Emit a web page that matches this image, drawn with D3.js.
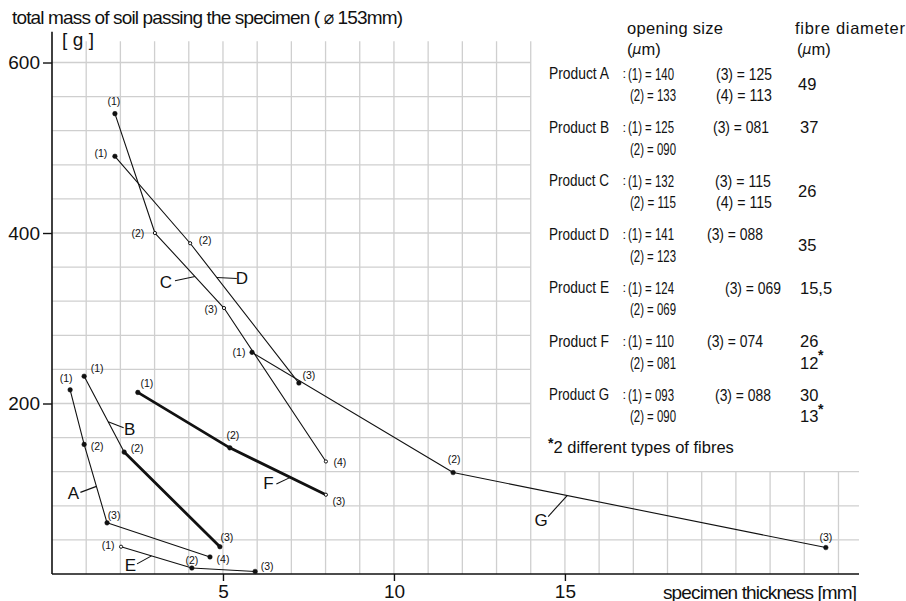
<!DOCTYPE html>
<html>
<head>
<meta charset="utf-8">
<script src="https://cdn.jsdelivr.net/npm/d3@7"></script>
<style>
  html, body { margin: 0; padding: 0; background: #fff; }
  svg text { font-family: "Liberation Sans Narrow", "Liberation Sans", "DejaVu Sans Condensed", sans-serif; fill: #111; }
</style>
</head>
<body>
<svg id="chart" width="906" height="601"></svg>
<script>
// ---------------- DATA ----------------
const products = ["A", "B", "C", "D", "E", "F", "G"];
// specimen thickness [mm]
const thicknessA = [0.53, 0.94, 1.61, 4.62];
const thicknessB = [0.94, 2.11, 4.91];
const thicknessC = [1.84, 3.01, 5.03, 8.01];
const thicknessD = [1.84, 4.04, 7.22];
const thicknessE = [2.02, 4.09, 5.94];
const thicknessF = [2.51, 5.20, 8.01];
const thicknessG = [5.85, 11.73, 22.63];
// total mass of soil passing [g]
const massA = [216, 152, 60, 20];
const massB = [232, 143, 32];
const massC = [540, 400, 312, 132];
const massD = [490, 388, 224];
const massE = [32, 7, 3];
const massF = [213, 148, 93];
const massG = [260, 119, 31];
// opening sizes (µm) for points (1),(2),(3),(4)
const openingA = ["140", "133", "125", "113"];
const openingB = ["125", "090", "081"];
const openingC = ["132", "115", "115", "115"];
const openingD = ["141", "123", "088"];
const openingE = ["124", "069", "069"];
const openingF = ["110", "081", "074"];
const openingG = ["093", "090", "088"];
// fibre diameter (µm)
const fibreA = ["49"];
const fibreB = ["37"];
const fibreC = ["26"];
const fibreD = ["35"];
const fibreE = ["15,5"];
const fibreF = ["26", "12"];
const fibreG = ["30", "13"];

const xTicks = [5, 10, 15];
const yTicks = [200, 400, 600];

const titleText = "total mass of soil passing the specimen ( \u2300 153mm)";
const yUnitText = "[ g ]";
const xTitleText = "specimen thickness [mm]";
const footnoteText = "2 different types of fibres";

// ---------------- LAYOUT / STYLE ----------------
const x = d3.scaleLinear().domain([0, 23.6]).range([52, 859]);
const y = d3.scaleLinear().domain([0, 625]).range([574, 41.2]);
const FONT = '"Liberation Sans Narrow", "Liberation Sans", sans-serif';

// segments drawn heavy: product -> index of first heavy segment
const heavyFrom = { B: 1, F: 0 };
// small open markers
const openMarkers = { C: [1, 2, 3], D: [1], E: [0], F: [2] };
// point-label offsets [dx, dy] in px
const labelOffsets = {
  A: [[-4, -12], [13, 2], [7, -8], [13, 2]],
  B: [[13, -8], [13, -4], [7, -10]],
  C: [[-1, -13], [-17, 0], [-13, 1], [14, 1]],
  D: [[-14, -3], [15, -3], [10, -8]],
  E: [[-13, -2], [0, -8], [12, -5]],
  F: [[9, -9], [3, -13], [13, 6]],
  G: [[-13, 0], [1, -14], [0, -11]]
};
// curve letter call-outs: segment index, fraction along it, leader end offset, letter offset
const callouts = {
  A: { seg: 1, t: 0.535, lead: [-16, 6], letter: [-23, 7.5] },
  B: { seg: 0, t: 0.6, lead: [15.5, 6], letter: [21.5, 7.5] },
  C: { seg: 1, t: 0.58, lead: [-20, 4.3], letter: [-29, 5.5] },
  D: { seg: 1, t: 0.245, lead: [20, 1], letter: [25, 1.5] },
  E: { seg: 0, t: 0.43, lead: [-14.5, 8], letter: [-21, 9.5] },
  F: { seg: 1, t: 0.63, lead: [-14, 6.7], letter: [-22, 6.5] },
  G: { seg: 1, t: 0.306, lead: [-19, 21], letter: [-26, 25] }
};

const table = {
  A: { t: thicknessA, m: massA, open: openingA, fibre: fibreA },
  B: { t: thicknessB, m: massB, open: openingB, fibre: fibreB },
  C: { t: thicknessC, m: massC, open: openingC, fibre: fibreC },
  D: { t: thicknessD, m: massD, open: openingD, fibre: fibreD },
  E: { t: thicknessE, m: massE, open: openingE, fibre: fibreE },
  F: { t: thicknessF, m: massF, open: openingF, fibre: fibreF },
  G: { t: thicknessG, m: massG, open: openingG, fibre: fibreG }
};

const svg = d3.select("#chart");

// ---------------- GRID ----------------
const grid = svg.append("g").attr("stroke", "#cfcfcf").attr("stroke-width", 1.3);
const xGrid = d3.range(1, 24);
grid.selectAll("line.v").data(xGrid).join("line")
  .attr("x1", d => x(d)).attr("x2", d => x(d))
  .attr("y1", y(0)).attr("y2", d => d <= 14 ? y(625) : y(120));
const yGrid = d3.range(40, 601, 40);
grid.selectAll("line.h").data(yGrid).join("line")
  .attr("y1", d => y(d)).attr("y2", d => y(d))
  .attr("x1", x(0)).attr("x2", d => d <= 120 ? x(23.6) : x(14));

// ---------------- AXES ----------------
const axisG = svg.append("g");
axisG.append("line").attr("x1", x(0)).attr("x2", x(0)).attr("y1", y(0)).attr("y2", y(636))
  .attr("stroke", "#111").attr("stroke-width", 1.6);
axisG.append("line").attr("x1", x(0)).attr("x2", x(23.6)).attr("y1", y(0)).attr("y2", y(0))
  .attr("stroke", "#111").attr("stroke-width", 1.6);

const yAxis = svg.append("g").attr("transform", `translate(${x(0)},0)`)
  .call(d3.axisLeft(y).tickValues(yTicks).tickSize(9).tickPadding(3).tickFormat(d3.format("d")));
yAxis.select(".domain").remove();
yAxis.selectAll(".tick line").attr("stroke", "#111").attr("stroke-width", 1.4);
yAxis.selectAll(".tick text").style("font-family", FONT).style("font-size", "19px").attr("fill", "#111");

const xAxis = svg.append("g").attr("transform", `translate(0,${y(0)})`)
  .call(d3.axisBottom(x).tickValues(xTicks).tickSize(7).tickPadding(4).tickFormat(d3.format("d")));
xAxis.select(".domain").remove();
xAxis.selectAll(".tick line").attr("stroke", "#111").attr("stroke-width", 1.4);
xAxis.selectAll(".tick text").style("font-family", FONT).style("font-size", "19px").attr("fill", "#111");

// titles
svg.append("text").attr("x", 12).attr("y", 17).attr("dominant-baseline", "central")
  .attr("textLength", 391).attr("lengthAdjust", "spacing")
  .style("font-size", "19px").text(titleText);
svg.append("text").attr("x", 62).attr("y", 39).attr("dominant-baseline", "central")
  .attr("textLength", 32).attr("lengthAdjust", "spacing")
  .style("font-size", "19px").text(yUnitText);
svg.append("text").attr("x", 663).attr("y", 592).attr("dominant-baseline", "central")
  .attr("textLength", 194).attr("lengthAdjust", "spacing")
  .style("font-size", "19px").text(xTitleText);

// ---------------- CURVES ----------------
const curvesG = svg.append("g");
products.forEach(p => {
  const d = table[p];
  const pts = d.t.map((t, i) => [x(t), y(d.m[i])]);
  for (let i = 0; i < pts.length - 1; i++) {
    const heavy = heavyFrom[p] !== undefined && i >= heavyFrom[p];
    curvesG.append("line")
      .attr("x1", pts[i][0]).attr("y1", pts[i][1])
      .attr("x2", pts[i + 1][0]).attr("y2", pts[i + 1][1])
      .attr("stroke", "#111").attr("stroke-width", heavy ? 2.8 : 1.1)
      .attr("stroke-linecap", "round");
  }
  const opens = openMarkers[p] || [];
  pts.forEach((pt, i) => {
    const isOpen = opens.includes(i);
    curvesG.append("circle").attr("cx", pt[0]).attr("cy", pt[1])
      .attr("r", isOpen ? 1.6 : 2.3)
      .attr("fill", isOpen ? "#fff" : "#111")
      .attr("stroke", "#111").attr("stroke-width", isOpen ? 1 : 0.5);
    const off = labelOffsets[p][i];
    curvesG.append("text").attr("x", pt[0] + off[0]).attr("y", pt[1] + off[1])
      .attr("text-anchor", "middle").attr("dominant-baseline", "central")
      .style("font-size", "10.5px").text(`(${i + 1})`);
  });
  // call-out letter
  const c = callouts[p];
  const a = pts[c.seg], b = pts[c.seg + 1];
  const tx = a[0] + (b[0] - a[0]) * c.t, ty = a[1] + (b[1] - a[1]) * c.t;
  curvesG.append("line").attr("x1", tx).attr("y1", ty)
    .attr("x2", tx + c.lead[0]).attr("y2", ty + c.lead[1])
    .attr("stroke", "#111").attr("stroke-width", 1.1);
  curvesG.append("text").attr("x", tx + c.letter[0]).attr("y", ty + c.letter[1])
    .attr("text-anchor", "middle").attr("dominant-baseline", "central")
    .style("font-size", "17px").text(p);
});

// ---------------- LEGEND TABLE ----------------
const leg = svg.append("g").style("font-size", "16.5px");
function mu(sel, xPos, yPos) {
  const t = sel.append("text").attr("x", xPos).attr("y", yPos).attr("dominant-baseline", "central");
  t.append("tspan").text("(");
  t.append("tspan").style("font-style", "italic").style("font-family", '"DejaVu Sans", sans-serif').style("font-size", "14px").text("\u03bc");
  t.append("tspan").text("m)");
}
leg.append("text").attr("x", 627).attr("y", 28).attr("dominant-baseline", "central")
  .attr("textLength", 96).attr("lengthAdjust", "spacing").text("opening size");
mu(leg, 627, 49);
leg.append("text").attr("x", 795).attr("y", 28).attr("dominant-baseline", "central")
  .attr("textLength", 110).attr("lengthAdjust", "spacing").text("fibre diameter");
mu(leg, 797, 49);

const col3 = { A: 716, B: 713, C: 715, D: 707, E: 725, F: 707, G: 715 };
const fibrePos = { A: "mid", B: "top", C: "mid", D: "mid", E: "top", F: "two", G: "two" };
products.forEach((p, i) => {
  const d = table[p];
  const y1 = 73.5 + 53.5 * i, y2 = y1 + 21.5;
  const row = (xx, yy, s, len) => {
    const t = leg.append("text").attr("x", xx).attr("y", yy).attr("dominant-baseline", "central").text(s);
    if (len) t.attr("textLength", len).attr("lengthAdjust", "spacingAndGlyphs");
    return t;
  };
  row(549, y1, `Product ${p}`, 60).style("font-size", "16px");
  row(622.5, y1, ":").style("font-size", "13px");
  row(628, y1, `(1) = ${d.open[0]}`, 46);
  row(col3[p], y1, `(3) = ${d.open[2]}`, 56);
  row(630, y2, `(2) = ${d.open[1]}`, 46);
  if (d.open[3]) row(716, y2, `(4) = ${d.open[3]}`, 56);
  const fp = fibrePos[p];
  if (fp === "mid") row(798, (y1 + y2) / 2, d.fibre[0]);
  else if (fp === "top") row(800, y1, d.fibre[0]);
  else {
    row(800, y1, d.fibre[0]);
    row(800, y2, d.fibre[1]);
    leg.append("text").attr("x", 818).attr("y", y1 + 14).attr("dominant-baseline", "central")
      .style("font-size", "14px").style("font-weight", "bold").text("*");
  }
});
const fn = leg.append("text").attr("x", 548).attr("y", 447).attr("dominant-baseline", "central");
fn.append("tspan").style("font-size", "14px").style("font-weight", "bold").attr("dy", "-4").text("*");
fn.append("tspan").attr("dy", "4").text(footnoteText);
</script>
</body>
</html>
